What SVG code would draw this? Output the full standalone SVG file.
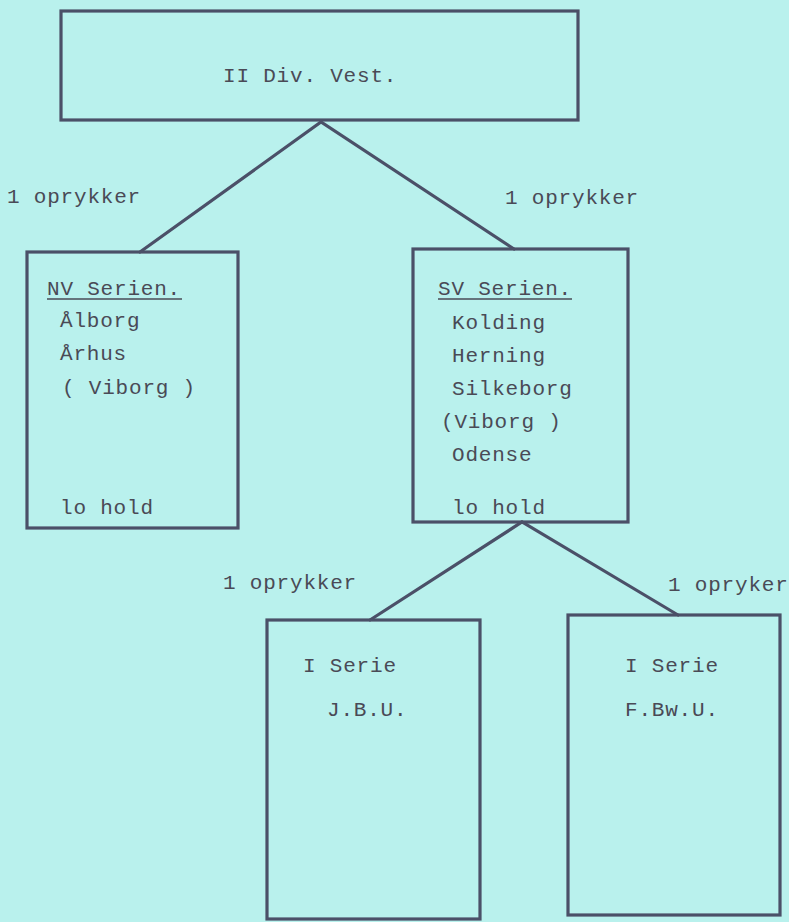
<svg xmlns="http://www.w3.org/2000/svg" width="789" height="922" viewBox="0 0 789 922">
<style>
.box{fill:none;stroke:#4b5068;stroke-width:3.2;stroke-linejoin:miter}
.ln{fill:none;stroke:#4b5068;stroke-width:3.2;stroke-linecap:round}
text{font-family:"Liberation Mono","DejaVu Sans Mono",monospace;font-size:21px;letter-spacing:0.8px;fill:#4a4a56}
.ul{stroke:#4a4a56;stroke-width:1.6}
</style>
<rect x="0" y="0" width="789" height="922" fill="#b9f1ed"/>
<g id="connectors">
<path class="ln" d="M140,252 L321,122 L514,249"/>
<path class="ln" d="M370,620 L522,522 L678,615"/>
</g>
<g id="labels">
<text x="7" y="203">1 oprykker</text>
<text x="505" y="204">1 oprykker</text>
<text x="223" y="589">1 oprykker</text>
<text x="668" y="591">1 opryker</text>
</g>
<g id="top">
<rect class="box" x="61" y="11" width="517" height="109"/>
<text x="223" y="82">II Div. Vest.</text>
</g>
<g id="nv">
<rect class="box" x="27" y="252" width="211" height="276"/>
<text x="47" y="295">NV Serien.</text>
<line class="ul" x1="47" y1="299" x2="182" y2="299"/>
<text x="60" y="327">Ålborg</text>
<text x="60" y="360">Århus</text>
<text x="62" y="394">( Viborg )</text>
<text x="60" y="514">lo hold</text>
</g>
<g id="sv">
<rect class="box" x="413" y="249" width="215" height="273"/>
<text x="438" y="295">SV Serien.</text>
<line class="ul" x1="438" y1="299" x2="572" y2="299"/>
<text x="452" y="329">Kolding</text>
<text x="452" y="362">Herning</text>
<text x="452" y="395">Silkeborg</text>
<text x="441" y="428">(Viborg )</text>
<text x="452" y="461">Odense</text>
<text x="452" y="514">lo hold</text>
</g>
<g id="jbu">
<rect class="box" x="267" y="620" width="213" height="299"/>
<text x="303" y="672">I Serie</text>
<text x="327" y="716">J.B.U.</text>
</g>
<g id="fbwu">
<rect class="box" x="568" y="615" width="212" height="300"/>
<text x="625" y="672">I Serie</text>
<text x="625" y="716">F.Bw.U.</text>
</g>
</svg>
